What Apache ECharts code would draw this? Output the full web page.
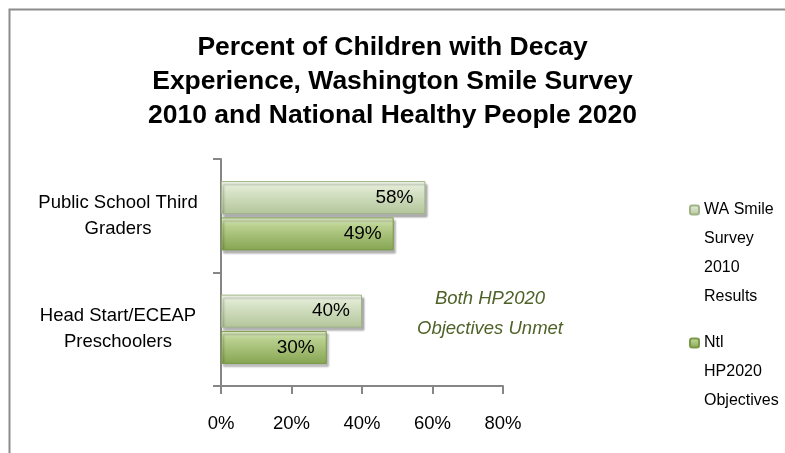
<!DOCTYPE html>
<html><head><meta charset="utf-8">
<script src="https://cdn.jsdelivr.net/npm/echarts@6/dist/echarts.min.js"></script>
<style>html,body{margin:0;padding:0;background:#fff}#c{width:785px;height:453px}</style>
</head><body><div id="c"></div>
<script>
const categories = ['Public School Third\nGraders', 'Head Start/ECEAP\nPreschoolers'];
const seriesNames = ['WA Smile Survey 2010 Results', 'Ntl HP2020 Objectives'];
const legendLabels = ['WA Smile\nSurvey\n2010\nResults', 'Ntl\nHP2020\nObjectives'];
const waSmile = [58, 40];
const hp2020 = [49, 30];
const xTicks = [0, 20, 40, 60, 80];
const titleText = 'Percent of Children with Decay\nExperience, Washington Smile Survey\n2010 and National Healthy People 2020';
const noteText = 'Both HP2020\nObjectives Unmet';

const font = 'Liberation Sans';
const LH = 29;
const chart = echarts.init(document.getElementById('c'));
function grad(c1, c2, c3) {
  return new echarts.graphic.LinearGradient(0, 0, 0, 1, [
    {offset: 0, color: c1}, {offset: 0.25, color: c2}, {offset: 1, color: c3}
  ]);
}
const labelCfg = {show: true, position: 'insideRight', distance: 12, color: '#000',
  fontFamily: font, fontSize: 19, formatter: p => p.value + '%'};
function legendFor(i, iconCenterY) {
  const lines = legendLabels[i].split('\n');
  // pad with empty lines above so the first line sits level with the icon
  const padded = lines.map(() => ' ').slice(1).concat(lines).join('\n');
  const boxH = (2 * lines.length - 1) * LH;
  return {orient: 'vertical', left: 689, top: iconCenterY - boxH / 2, padding: 0,
    itemWidth: 9, itemHeight: 9,
    data: [seriesNames[i]],
    formatter: () => padded,
    textStyle: {fontFamily: font, fontSize: 16, lineHeight: LH, color: '#000'}};
}
chart.setOption({
  animation: false,
  backgroundColor: '#fff',
  title: {text: titleText, left: 'center', top: 26,
    textStyle: {fontFamily: font, fontWeight: 'bold', fontSize: 26.5, lineHeight: 34, color: '#000'}},
  grid: {left: 221, right: 282, top: 159, bottom: 67, containLabel: false},
  legend: [legendFor(0, 210), legendFor(1, 343)],
  xAxis: {type: 'value', min: xTicks[0], max: xTicks[xTicks.length - 1], interval: 20,
    axisLine: {show: true, lineStyle: {color: '#868686', width: 2}},
    axisTick: {show: true, length: 8, lineStyle: {color: '#868686', width: 2}},
    splitLine: {show: false},
    axisLabel: {formatter: '{value}%', fontFamily: font, fontSize: 18.5, color: '#000', margin: 28}},
  yAxis: {type: 'category', data: categories, inverse: true,
    axisLine: {show: true, lineStyle: {color: '#868686', width: 2}},
    axisTick: {show: true, length: 8, lineStyle: {color: '#868686', width: 2}},
    axisLabel: {fontFamily: font, fontSize: 18.5, lineHeight: 26, color: '#000', align: 'center', margin: 103}},
  series: [
    {name: seriesNames[0], type: 'bar', data: waSmile, barWidth: 33, barGap: '10%',
      itemStyle: {color: grad('#f3f7ec', '#dbe6cc', '#b3c59a'), borderColor: '#9fb386', borderWidth: 1,
        shadowColor: 'rgba(0,0,0,0.3)', shadowBlur: 2, shadowOffsetX: 2, shadowOffsetY: 3},
      label: labelCfg},
    {name: seriesNames[1], type: 'bar', data: hp2020, barWidth: 33,
      itemStyle: {color: grad('#dfeac8', '#b9d08e', '#86a552'), borderColor: '#7a9a48', borderWidth: 1,
        shadowColor: 'rgba(0,0,0,0.3)', shadowBlur: 2, shadowOffsetX: 2, shadowOffsetY: 3},
      label: labelCfg}
  ],
  color: ['#cfdcbb', '#9bbb59'],
  graphic: [
    {type: 'rect', left: 7, top: 7, shape: {width: 800, height: 460},
      style: {fill: 'none', stroke: '#8c8c8c', lineWidth: 2}, silent: true},
    {type: 'text', x: 490, y: 284,
      style: {text: noteText, fontFamily: font, fontStyle: 'italic', fontSize: 18.5, lineHeight: 30,
        fill: '#4f6228', align: 'center', verticalAlign: 'top'}}
  ]
});
</script></body></html>
